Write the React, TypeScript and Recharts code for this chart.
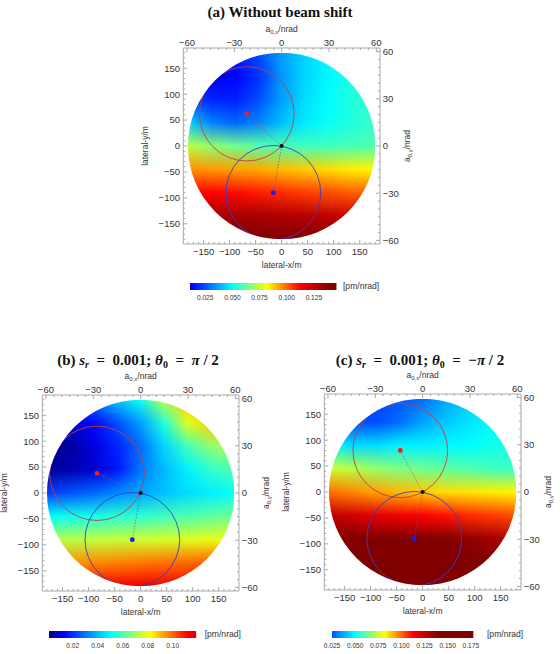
import React from 'react';
import { ComposedChart, XAxis, YAxis, Scatter, Bar, ReferenceArea, ReferenceLine } from 'recharts';

const gridX = [-180, -135, -90, -45, 0, 45, 90, 135, 180];
const gridY = [180, 135, 90, 45, 0, -45, -90, -135, -180];

// pm/nrad, one row per gridY entry (top to bottom), one column per gridX entry
const fieldA = [
  [0.020, 0.016, 0.018, 0.024, 0.036, 0.044, 0.050, 0.055, 0.058],
  [0.014, 0.012, 0.013, 0.020, 0.035, 0.044, 0.049, 0.053, 0.056],
  [0.022, 0.018, 0.017, 0.024, 0.036, 0.045, 0.050, 0.054, 0.057],
  [0.044, 0.032, 0.028, 0.032, 0.041, 0.047, 0.051, 0.054, 0.057],
  [0.074, 0.068, 0.064, 0.061, 0.059, 0.058, 0.058, 0.059, 0.060],
  [0.095, 0.094, 0.093, 0.092, 0.090, 0.088, 0.086, 0.084, 0.083],
  [0.113, 0.112, 0.111, 0.109, 0.107, 0.105, 0.103, 0.101, 0.100],
  [0.134, 0.133, 0.132, 0.131, 0.130, 0.128, 0.126, 0.124, 0.122],
  [0.146, 0.146, 0.146, 0.145, 0.145, 0.144, 0.143, 0.142, 0.141],
];
const fieldB = [
  [0.012, 0.020, 0.030, 0.042, 0.052, 0.074, 0.088, 0.094, 0.098],
  [0.006, 0.008, 0.014, 0.024, 0.036, 0.054, 0.078, 0.088, 0.092],
  [0.002, 0.003, 0.010, 0.018, 0.029, 0.044, 0.058, 0.068, 0.072],
  [0.003, 0.005, 0.008, 0.016, 0.030, 0.040, 0.048, 0.056, 0.060],
  [0.022, 0.025, 0.028, 0.033, 0.037, 0.041, 0.045, 0.048, 0.051],
  [0.050, 0.052, 0.053, 0.055, 0.056, 0.058, 0.060, 0.062, 0.064],
  [0.072, 0.073, 0.074, 0.075, 0.076, 0.077, 0.078, 0.079, 0.080],
  [0.094, 0.095, 0.096, 0.097, 0.098, 0.099, 0.100, 0.101, 0.102],
  [0.113, 0.114, 0.114, 0.115, 0.115, 0.116, 0.116, 0.117, 0.117],
];
const fieldC = [
  [0.022, 0.022, 0.023, 0.025, 0.029, 0.037, 0.043, 0.047, 0.050],
  [0.026, 0.024, 0.024, 0.029, 0.037, 0.042, 0.046, 0.050, 0.053],
  [0.050, 0.045, 0.045, 0.048, 0.048, 0.049, 0.050, 0.052, 0.054],
  [0.076, 0.073, 0.069, 0.066, 0.064, 0.062, 0.060, 0.058, 0.057],
  [0.099, 0.096, 0.093, 0.090, 0.088, 0.086, 0.085, 0.084, 0.083],
  [0.126, 0.122, 0.118, 0.115, 0.112, 0.110, 0.107, 0.105, 0.103],
  [0.165, 0.160, 0.155, 0.150, 0.146, 0.141, 0.136, 0.132, 0.128],
  [0.175, 0.172, 0.168, 0.164, 0.160, 0.155, 0.150, 0.146, 0.142],
  [0.178, 0.176, 0.174, 0.172, 0.170, 0.166, 0.162, 0.158, 0.154],
];

const diskRadius = 180;
const circleRadius = 91;
const origin = { x: 0, y: 0 };
const blueCenter = { x: -16, y: -90 };
const redCenterA = { x: -67, y: 62 };
const redCenterB = { x: -84, y: 38 };
const redCenterC = { x: -43, y: 80 };

const lateralTicks = [-150, -100, -50, 0, 50, 100, 150];
const angleTicks = [-60, -30, 0, 30, 60];
const lateralDomain = [-189, 189];
const angleDomain = [-62.3, 62.3];
const lateralMinor = Array.from({ length: 37 }, (_, i) => -180 + i * 10);
const angleMinor = Array.from({ length: 25 }, (_, i) => -60 + i * 5);

const barTicksA = [0.025, 0.05, 0.075, 0.1, 0.125];
const barTicksB = [0.02, 0.04, 0.06, 0.08, 0.1];
const barTicksC = [0.025, 0.05, 0.075, 0.1, 0.125, 0.15, 0.175];
const barRangeA = [0.011, 0.146];
const barRangeB = [0.001, 0.119];
const barRangeC = [0.025, 0.178];

// jet-like colour function, same absolute scale in all three panels
const cmapAt = [0, 0.013, 0.05, 0.082, 0.112, 0.14];
const cmapRgb = [[0, 0, 128], [0, 0, 255], [0, 255, 255], [255, 255, 0], [255, 0, 0], [128, 0, 0]];

const FRAME = '#a8a8a8';
const INK = '#333';
const SANS = '"Liberation Sans", Arial, sans-serif';
const SERIF = '"Liberation Serif", "Times New Roman", serif';

function colorOf(v: number) {
  const n = cmapAt.length;
  let c = cmapRgb[n - 1];
  if (v <= cmapAt[0]) c = cmapRgb[0];
  else if (v < cmapAt[n - 1]) {
    let k = 0;
    while (v > cmapAt[k + 1]) k++;
    const t = (v - cmapAt[k]) / (cmapAt[k + 1] - cmapAt[k]);
    c = cmapRgb[k].map((a, i) => a + (cmapRgb[k + 1][i] - a) * t);
  }
  return `rgb(${Math.round(c[0])},${Math.round(c[1])},${Math.round(c[2])})`;
}

const fmt = (v: number) => (v < 0 ? '\u2212' + Math.abs(v) : String(v));

function frameTick(side: string, majors: number[]) {
  return (p: any) => {
    const { x, y, payload } = p;
    const v = Math.round(payload.value * 1000) / 1000;
    const major = majors.includes(v);
    const L = major ? 4 : 2;
    const txt = { fontFamily: SANS, fontSize: 9.5, fill: INK };
    if (side === 'bottom')
      return (
        <g>
          <line x1={x} x2={x} y1={y} y2={y - L} stroke={FRAME} />
          {major && <text x={x} y={y + 11} textAnchor="middle" {...txt}>{fmt(v)}</text>}
        </g>
      );
    if (side === 'top')
      return (
        <g>
          <line x1={x} x2={x} y1={y} y2={y + L} stroke={FRAME} />
          {major && <text x={x} y={y - 2} textAnchor="middle" {...txt}>{fmt(v)}</text>}
        </g>
      );
    if (side === 'left')
      return (
        <g>
          <line x1={x} x2={x + L} y1={y} y2={y} stroke={FRAME} />
          {major && <text x={x - 3.3} y={y + 3.4} textAnchor="end" {...txt}>{fmt(v)}</text>}
        </g>
      );
    return (
      <g>
        <line x1={x} x2={x - L} y1={y} y2={y} stroke={FRAME} />
        {major && <text x={x + 2.7} y={y + 3.4} textAnchor="start" {...txt}>{fmt(v)}</text>}
      </g>
    );
  };
}

const labelText = { fontFamily: SANS, fontSize: 8.5, fill: INK };

const topLabel = (p: any) => {
  const vb = p.viewBox;
  return (
    <text x={vb.x + vb.width / 2} y={vb.y + 6} textAnchor="middle" {...labelText}>
      a<tspan dy={2} fontSize={6}>0,x</tspan><tspan dy={-2}>/nrad</tspan>
    </text>
  );
};
const bottomLabel = (p: any) => {
  const vb = p.viewBox;
  return (
    <text x={vb.x + vb.width / 2} y={vb.y + 24} textAnchor="middle" {...labelText}>lateral-x/m</text>
  );
};
const leftLabel = (p: any) => {
  const vb = p.viewBox;
  const cx = vb.x + 0.5;
  const cy = vb.y + vb.height / 2;
  return (
    <text x={cx} y={cy} transform={`rotate(-90 ${cx} ${cy})`} textAnchor="middle" {...labelText}>lateral-y/m</text>
  );
};
const rightLabel = (p: any) => {
  const vb = p.viewBox;
  const cx = vb.x + 30;
  const cy = vb.y + vb.height / 2;
  return (
    <text x={cx} y={cy} transform={`rotate(-90 ${cx} ${cy})`} textAnchor="middle" {...labelText}>
      a<tspan dy={2} fontSize={6}>0,y</tspan><tspan dy={-2}>/nrad</tspan>
    </text>
  );
};

// one strip between two grid columns: left column colours, right column faded in across the strip
const heatShape = (id: string, i: number) => (p: any) => (
  <g>
    <rect x={p.x - 1} y={p.y} width={p.width + 1} height={p.height} fill={`url(#heat${id}${i})`} />
    <rect x={p.x} y={p.y} width={p.width} height={p.height} fill={`url(#heat${id}${i + 1})`}
      mask={`url(#ramp${id})`} />
  </g>
);

const ringShape = (color: string) => (p: any) => (
  <ellipse cx={p.x + p.width / 2} cy={p.y + p.height / 2} rx={p.width / 2} ry={p.height / 2} fill="none" stroke={color} strokeWidth={0.9} />
);

const maskShape = (p: any) => {
  const { x, y, width: w, height: h } = p;
  const rx = w / 2;
  const ry = h / 2;
  const cx = x + rx;
  const cy = y + ry;
  const d =
    `M${x - 2},${y - 2}H${x + w + 2}V${y + h + 2}H${x - 2}Z ` +
    `M${cx - rx},${cy}A${rx},${ry} 0 1,0 ${cx + rx},${cy}A${rx},${ry} 0 1,0 ${cx - rx},${cy}Z`;
  return <path d={d} fill="#fff" fillRule="evenodd" stroke="none" />;
};

const dotShape = (color: string, r: number) => (p: any) => <circle cx={p.cx} cy={p.cy} r={r} fill={color} />;

function Panel({ id, field, red, left, top }: any) {
  const angleRows = angleTicks.map((a) => ({ angle: a }));
  return (
    <div style={{ position: 'absolute', left, top }}>
      <ComposedChart width={280} height={280} data={angleRows} margin={{ top: 26, right: 4, bottom: 6, left: 7.3 }}>
        <defs>
          {gridX.map((_, i) => (
            <linearGradient key={i} id={`heat${id}${i}`} x1="0" y1="0" x2="0" y2="1">
              {gridY.map((gy, j) => (
                <stop key={j} offset={(diskRadius - gy) / (2 * diskRadius)} stopColor={colorOf(field[j][i])} />
              ))}
            </linearGradient>
          ))}
          <linearGradient id={`rampFill${id}`} x1="0" y1="0" x2="1" y2="0">
            <stop offset="0" stopColor="#fff" stopOpacity={0} />
            <stop offset="1" stopColor="#fff" stopOpacity={1} />
          </linearGradient>
          <mask id={`ramp${id}`} maskContentUnits="objectBoundingBox" style={{ maskType: 'alpha' } as any}>
            <rect x="0" y="0" width="1" height="1" fill={`url(#rampFill${id})`} />
          </mask>
        </defs>
        <XAxis xAxisId="x" type="number" dataKey="x" domain={lateralDomain} allowDataOverflow ticks={lateralMinor}
          interval={0} tickSize={0} tickMargin={0} tick={frameTick('bottom', lateralTicks)} height={30}
          axisLine={{ stroke: FRAME }} label={bottomLabel} />
        <XAxis xAxisId="top" orientation="top" type="number" dataKey="angle" domain={angleDomain} allowDataOverflow
          ticks={angleMinor} interval={0} tickSize={0} tickMargin={0} tick={frameTick('top', angleTicks)} height={22}
          axisLine={{ stroke: FRAME }} label={topLabel} />
        <YAxis yAxisId="y" type="number" dataKey="y" domain={lateralDomain} allowDataOverflow ticks={lateralMinor}
          interval={0} tickSize={0} tickMargin={0} tick={frameTick('left', lateralTicks)} width={36}
          axisLine={{ stroke: FRAME }} label={leftLabel} />
        <YAxis yAxisId="right" orientation="right" type="number" domain={angleDomain} allowDataOverflow ticks={angleMinor}
          interval={0} tickSize={0} tickMargin={0} tick={frameTick('right', angleTicks)} width={36}
          axisLine={{ stroke: FRAME }} label={rightLabel} />
        {gridX.slice(0, -1).map((gx, i) => (
          <ReferenceArea key={i} xAxisId="x" yAxisId="y" x1={gx} x2={gridX[i + 1]}
            y1={-diskRadius} y2={diskRadius} shape={heatShape(id, i)} />
        ))}
        <ReferenceArea xAxisId="x" yAxisId="y" x1={red.x - circleRadius} x2={red.x + circleRadius}
          y1={red.y - circleRadius} y2={red.y + circleRadius} shape={ringShape('#c83c3c')} />
        <ReferenceArea xAxisId="x" yAxisId="y" x1={blueCenter.x - circleRadius} x2={blueCenter.x + circleRadius}
          y1={blueCenter.y - circleRadius} y2={blueCenter.y + circleRadius} shape={ringShape('#3c3cc8')} />
        <ReferenceArea xAxisId="x" yAxisId="y" x1={-diskRadius} x2={diskRadius} y1={-diskRadius} y2={diskRadius}
          shape={maskShape} />
        <ReferenceLine xAxisId="x" yAxisId="y" segment={[red, origin]} stroke="#a05a5a" strokeWidth={0.7} strokeDasharray="1.5 1.5" />
        <ReferenceLine xAxisId="x" yAxisId="y" segment={[origin, blueCenter]} stroke="#5a5aa0" strokeWidth={0.7} strokeDasharray="1.5 1.5" />
        <Scatter xAxisId="x" yAxisId="y" data={[red]} isAnimationActive={false} shape={dotShape('#ff1a1a', 2.4)} />
        <Scatter xAxisId="x" yAxisId="y" data={[blueCenter]} isAnimationActive={false} shape={dotShape('#1a1aff', 2.4)} />
        <Scatter xAxisId="x" yAxisId="y" data={[origin]} isAnimationActive={false} shape={dotShape('#111', 2.1)} />
      </ComposedChart>
    </div>
  );
}

function ColorBar({ id, range, ticks, digits, barLeft, barTop, barWidth, unitGap }: any) {
  const [lo, hi] = range;
  const stops = [lo, ...cmapAt.filter((s) => s > lo && s < hi), hi];
  const rows = [{ name: 'scale', span: [lo, hi] }];
  const pad = 16;
  const barTick = (p: any) => (
    <text x={p.x} y={p.y + 10.3} textAnchor="middle" fontFamily={SANS} fontSize={6.6} fill={INK}>
      {p.payload.value.toFixed(digits)}
    </text>
  );
  const unitLabel = (p: any) => (
    <text x={p.x + p.width + unitGap} y={p.y + p.height / 2 + 3} textAnchor="start" fontFamily={SANS} fontSize={8.6} fill={INK}>
      [pm/nrad]
    </text>
  );
  return (
    <div style={{ position: 'absolute', left: barLeft - pad, top: barTop - 5 }}>
      <ComposedChart layout="vertical" width={barWidth + pad + 90} height={30} data={rows}
        margin={{ top: 5, right: 90, bottom: 0, left: pad }} barCategoryGap={0}>
        <defs>
          <linearGradient id={`bar${id}`} x1="0" y1="0" x2="1" y2="0">
            {stops.map((s, i) => (
              <stop key={i} offset={(s - lo) / (hi - lo)} stopColor={colorOf(s)} />
            ))}
          </linearGradient>
        </defs>
        <XAxis type="number" domain={range} allowDataOverflow ticks={ticks} interval={0} axisLine={false}
          tickLine={false} tickSize={0} tickMargin={0} tick={barTick} height={18.3} />
        <YAxis type="category" dataKey="name" hide width={0} />
        <Bar dataKey="span" fill={`url(#bar${id})`} isAnimationActive={false} label={unitLabel} />
      </ComposedChart>
    </div>
  );
}

const titleStyle: React.CSSProperties = {
  position: 'absolute', width: 280, textAlign: 'center', fontFamily: SERIF, fontWeight: 'bold',
  fontSize: 15, lineHeight: '16px', color: '#111', whiteSpace: 'pre',
};
const subStyle: React.CSSProperties = { fontSize: 10, verticalAlign: '-3px', lineHeight: 0 };

export default function App() {
  return (
    <div style={{ position: 'absolute', left: 0, top: 0, width: 560, height: 654, background: '#fff', overflow: 'hidden' }}>
      <div style={{ ...titleStyle, left: 140, top: 4 }}>(a) Without beam shift</div>
      <div style={{ ...titleStyle, left: -2, top: 352 }}>
        (b) <i>s</i><span style={subStyle}><i>r</i></span>{'  =  '}0.001; <i>θ</i><span style={subStyle}>0</span>{'  =  '}<i>π</i>{' / '}2
      </div>
      <div style={{ ...titleStyle, left: 280, top: 352 }}>
        (c) <i>s</i><span style={subStyle}><i>r</i></span>{'  =  '}0.001; <i>θ</i><span style={subStyle}>0</span>{'  =  '}−<i>π</i>{' / '}2
      </div>
      <Panel id="a" field={fieldA} red={redCenterA} left={140} top={0} />
      <Panel id="b" field={fieldB} red={redCenterB} left={-0.6} top={347} />
      <Panel id="c" field={fieldC} red={redCenterC} left={281} top={346.3} />
      <ColorBar id="a" range={barRangeA} ticks={barTicksA} digits={3} barLeft={190} barTop={283.3} barWidth={146.7} unitGap={6.3} />
      <ColorBar id="b" range={barRangeB} ticks={barTicksB} digits={2} barLeft={49.3} barTop={630.7} barWidth={147.4} unitGap={8.3} />
      <ColorBar id="c" range={barRangeC} ticks={barTicksC} digits={3} barLeft={331.7} barTop={630.7} barWidth={141.6} unitGap={13.4} />
    </div>
  );
}
